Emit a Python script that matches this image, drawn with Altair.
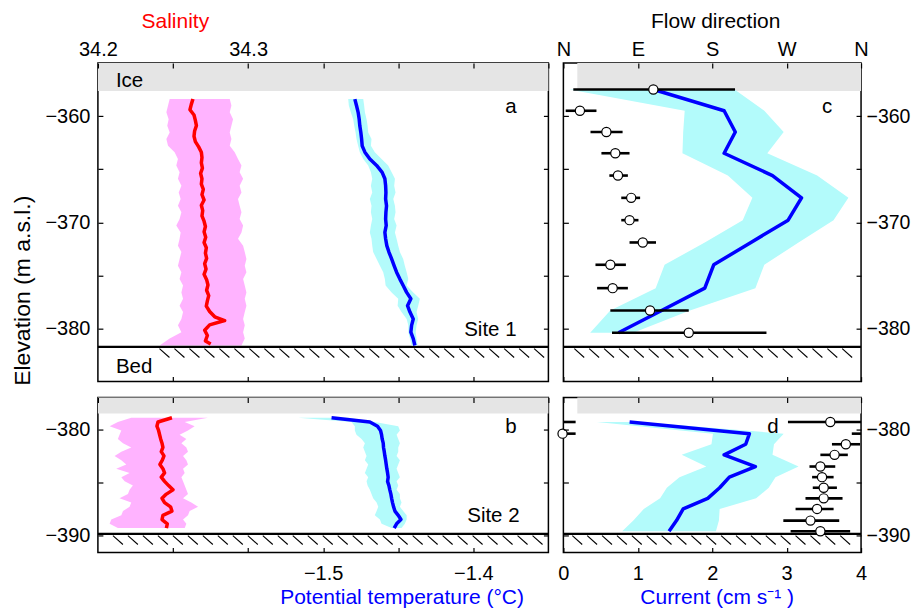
import altair as alt
import pandas as pd

FONT = "Liberation Sans"
LBL = 20
TTL = 21
GREY = "#e5e5e5"
PINK = "#ffb3ff"
CYAN = "#b3fbfb"
RED = "#ff0000"
BLUE = "#0000ff"

# ---------------- Panel a (Site 1) : salinity / temperature profiles ----------------
a_sal_elev = [-358.4, -358.9, -359.4, -359.9, -360.4, -360.9, -361.4, -361.9, -362.4, -362.9,
              -363.4, -363.9, -364.4, -364.9, -365.4, -365.9, -366.4, -366.9, -367.4, -367.9,
              -368.4, -368.9, -369.4, -369.9, -370.4, -370.9, -371.4, -371.9, -372.4, -372.9,
              -373.4, -373.9, -374.4, -374.9, -375.4, -375.9, -376.4, -376.9, -377.4, -377.9,
              -378.4, -378.9, -379.25, -379.66, -380.16, -380.66, -381.17, -381.45]
a_sal = [34.2633, 34.2622, 34.2613, 34.2640, 34.2649, 34.2656, 34.2644, 34.2640, 34.2649, 34.2671,
         34.2689, 34.2693, 34.2689, 34.2696, 34.2684, 34.2693, 34.2689, 34.2702, 34.2693, 34.2707,
         34.2689, 34.2698, 34.2693, 34.2707, 34.2716, 34.2707, 34.2718, 34.2707, 34.2722, 34.2716,
         34.2724, 34.2711, 34.2720, 34.2707, 34.2724, 34.2733, 34.2724, 34.2738, 34.2729, 34.2722,
         34.2744, 34.2778, 34.2844, 34.2744, 34.2711, 34.2729, 34.2716, 34.2751]

a_elev = [-358.4, -359.0, -359.65, -360.3, -360.9, -361.55, -362.15, -362.8, -363.4, -364.05,
          -364.65, -365.3, -365.9, -366.55, -367.2, -367.8, -368.45, -369.05, -369.7, -370.3,
          -370.95, -371.55, -372.2, -372.8, -373.45, -374.1, -374.7, -375.35, -375.95, -376.6,
          -377.2, -377.85, -378.45, -379.1, -379.7, -380.35, -380.95, -381.6]
a_sal_lo = [34.2478, 34.2467, 34.2456, 34.2471, 34.2462, 34.2478, 34.2456, 34.2467, 34.2511, 34.2533,
            34.2522, 34.2544, 34.2533, 34.2556, 34.2538, 34.2551, 34.2533, 34.2556, 34.2544, 34.2522,
            34.2551, 34.2544, 34.2533, 34.2556, 34.2544, 34.2533, 34.2556, 34.2544, 34.2567, 34.2556,
            34.2567, 34.2544, 34.2567, 34.2556, 34.2533, 34.2556, 34.2478, 34.2411]
a_sal_hi = [34.2878, 34.2889, 34.2878, 34.2900, 34.2889, 34.2878, 34.2889, 34.2878, 34.2911, 34.2933,
            34.2956, 34.2944, 34.2967, 34.2944, 34.2956, 34.2933, 34.2944, 34.2956, 34.2944, 34.2967,
            34.2956, 34.2933, 34.2967, 34.2978, 34.2989, 34.2978, 34.2989, 34.2967, 34.2978, 34.2989,
            34.2978, 34.2989, 34.2978, 34.2967, 34.2978, 34.2967, 34.2978, 34.2956]
a_temp = [-1.4789, -1.4778, -1.4767, -1.4760, -1.4756, -1.4749, -1.4744, -1.4740, -1.4722, -1.4689,
          -1.4644, -1.4607, -1.4589, -1.4584, -1.4582, -1.4584, -1.4578, -1.4582, -1.4584, -1.4580,
          -1.4589, -1.4584, -1.4576, -1.4562, -1.4544, -1.4527, -1.4511, -1.4489, -1.4467, -1.4444,
          -1.4416, -1.4438, -1.4422, -1.4400, -1.4411, -1.4416, -1.4400, -1.4389]
a_temp_lo = [-1.4833, -1.4829, -1.4816, -1.4800, -1.4793, -1.4784, -1.4778, -1.4767, -1.4756, -1.4733,
             -1.4700, -1.4682, -1.4673, -1.4682, -1.4673, -1.4689, -1.4678, -1.4682, -1.4673, -1.4682,
             -1.4689, -1.4678, -1.4673, -1.4667, -1.4644, -1.4622, -1.4600, -1.4589, -1.4584, -1.4544,
             -1.4500, -1.4504, -1.4478, -1.4444, -1.4433, -1.4433, -1.4422, -1.4411]
a_temp_hi = [-1.4733, -1.4727, -1.4722, -1.4711, -1.4704, -1.4700, -1.4678, -1.4682, -1.4656, -1.4611,
             -1.4567, -1.4544, -1.4522, -1.4527, -1.4518, -1.4533, -1.4522, -1.4518, -1.4527, -1.4511,
             -1.4522, -1.4511, -1.4500, -1.4489, -1.4467, -1.4456, -1.4444, -1.4433, -1.4444, -1.4400,
             -1.4356, -1.4367, -1.4378, -1.4367, -1.4378, -1.4384, -1.4378, -1.4371]

# ---------------- Panel b (Site 2) ----------------
b_elev = [-378.9, -379.3, -379.7, -380.1, -380.5, -380.9, -381.3, -381.7, -382.1, -382.5,
          -382.9, -383.3, -383.7, -384.1, -384.5, -384.9, -385.3, -385.7, -386.1, -386.5,
          -386.9, -387.3, -387.7, -388.1, -388.5, -388.9, -389.3]
b_sal = [34.2493, 34.2400, 34.2393, 34.2404, 34.2411, 34.2418, 34.2427, 34.2433, 34.2422, 34.2440,
         34.2429, 34.2413, 34.2433, 34.2444, 34.2422, 34.2444, 34.2471, 34.2500, 34.2456, 34.2427,
         34.2444, 34.2484, 34.2493, 34.2433, 34.2427, 34.2462, 34.2456]
b_sal_lo = [34.2222, 34.2133, 34.2078, 34.2156, 34.2144, 34.2133, 34.2167, 34.2222, 34.2156, 34.2111,
            34.2156, 34.2189, 34.2122, 34.2211, 34.2156, 34.2178, 34.2233, 34.2211, 34.2200, 34.2144,
            34.2222, 34.2211, 34.2167, 34.2156, 34.2089, 34.2078, 34.2133]
b_sal_hi = [34.2733, 34.2578, 34.2644, 34.2600, 34.2544, 34.2589, 34.2556, 34.2589, 34.2600, 34.2567,
            34.2589, 34.2600, 34.2567, 34.2578, 34.2556, 34.2567, 34.2578, 34.2589, 34.2600, 34.2567,
            34.2622, 34.2667, 34.2611, 34.2600, 34.2567, 34.2589, 34.2578]
b_temp = [-1.4944, -1.4689, -1.4638, -1.4618, -1.4611, -1.4607, -1.4600, -1.4598, -1.4593, -1.4589,
          -1.4584, -1.4580, -1.4576, -1.4571, -1.4567, -1.4571, -1.4562, -1.4556, -1.4549, -1.4544,
          -1.4538, -1.4531, -1.4522, -1.4500, -1.4482, -1.4511, -1.4527]
b_temp_lo = [-1.5167, -1.4811, -1.4789, -1.4789, -1.4778, -1.4744, -1.4722, -1.4733, -1.4722, -1.4711,
             -1.4722, -1.4700, -1.4711, -1.4722, -1.4700, -1.4711, -1.4704, -1.4689, -1.4678, -1.4667,
             -1.4644, -1.4633, -1.4644, -1.4656, -1.4622, -1.4611, -1.4544]
b_temp_hi = [-1.4833, -1.4656, -1.4500, -1.4489, -1.4511, -1.4500, -1.4489, -1.4500, -1.4500, -1.4511,
             -1.4489, -1.4500, -1.4511, -1.4500, -1.4489, -1.4511, -1.4500, -1.4511, -1.4489, -1.4489,
             -1.4478, -1.4489, -1.4467, -1.4444, -1.4444, -1.4456, -1.4478]

# ---------------- Panel c (Site 1 currents) ----------------
c_elev = [-357.5, -359.5, -361.5, -363.5, -365.6, -367.7, -369.8, -371.9, -374.0, -376.2, -378.3, -380.4]
c_cur = [1.21, 2.16, 2.31, 2.16, 2.81, 3.20, 3.02, 2.52, 2.02, 1.90, 1.32, 0.74]
c_cur_lo = [0.08, 1.63, 1.61, 1.60, 2.21, 2.54, 2.41, 1.90, 1.36, 1.24, 0.63, 0.36]
c_cur_hi = [2.30, 2.70, 2.96, 2.74, 3.41, 3.83, 3.63, 3.16, 2.70, 2.58, 1.70, 0.94]
c_dir = [108.8, 20.0, 52.0, 62.8, 66.0, 82.0, 80.0, 96.0, 56.8, 59.6, 104.8, 151.6]
c_dir_lo = [12.0, 2.8, 32.8, 46.0, 55.6, 70.0, 70.0, 80.0, 38.8, 40.8, 56.8, 58.8]
c_dir_hi = [207.6, 40.0, 71.6, 80.0, 78.0, 92.8, 90.8, 112.0, 75.6, 78.0, 151.6, 245.6]

# ---------------- Panel d (Site 2 currents) ----------------
d_elev = [-379.3, -380.4, -381.4, -382.4, -383.5, -384.5, -385.5, -386.5, -387.5, -388.6, -389.6]
d_cur = [0.89, 2.50, 2.45, 2.16, 2.58, 2.23, 2.10, 1.94, 1.61, 1.52, 1.42]
d_cur_lo = [0.45, 2.01, 1.99, 1.59, 1.92, 1.56, 1.39, 1.30, 1.08, 0.94, 0.79]
d_cur_hi = [1.03, 2.96, 2.83, 2.81, 3.16, 2.85, 2.76, 2.59, 2.10, 2.09, 2.05]
d_dir = [322.8, -1.0, 341.6, 328.0, 310.8, 312.8, 314.8, 314.8, 306.8, 298.8, 310.8]
d_dir_lo = [271.6, -11.2, 324.8, 310.8, 297.6, 300.8, 301.6, 292.8, 280.8, 266.0, 274.8]
d_dir_hi = [374.8, 14.8, 358.8, 344.0, 328.8, 326.8, 330.8, 337.6, 326.8, 333.6, 346.8]

# ice base / bed elevations
ICE_A, BED_A = -357.65, -381.73
ICE_B, BED_B = -378.49, -389.85

sal_ticks = [34.2, 34.25, 34.3, 34.35, 34.4, 34.45, 34.5]
temp_ticks = [-1.6, -1.55, -1.5, -1.45, -1.4]
cur_ticks = [0, 1, 2, 3, 4]
dir_ticks = [0, 90, 180, 270, 360]
ya_ticks = [-380, -375, -370, -365, -360]
yb_ticks = [-390, -385, -380]

SAL_DOM, TEMP_DOM = [34.2, 34.5], [-1.65, -1.35]
CUR_DOM, DIR_DOM = [0, 4], [0, 360]
YA_DOM, YB_DOM = [-385, -355], [-391.6, -377.0]
WL, WR, HA, HB = 451, 298, 319, 155


def sc(dom):
    return alt.Scale(domain=dom, nice=False, zero=False)


def axis(orient, values, expr=None, labels=True, title=None, **kw):
    d = dict(orient=orient, values=values, domain=False, grid=False, ticks=True,
             tickSize=5, tickColor="black", tickWidth=1.2, offset=-5, labels=labels,
             labelFont=FONT, labelFontSize=LBL, labelColor="black",
             labelOverlap=False, labelFlush=False, zindex=1, title=title)
    if expr is not None:
        d["labelExpr"] = expr
    if title is not None:
        d.update(titleFont=FONT, titleFontSize=TTL, titleFontWeight="normal",
                 titleAlign="center", titleBaseline="alphabetic")
    d.update(kw)
    return alt.Axis(**d)


SAL_EXPR = "abs(datum.value-34.2)<0.001 || abs(datum.value-34.3)<0.001 ? format(datum.value,'.1f') : ''"
TEMP_EXPR = "abs(datum.value+1.5)<0.001 || abs(datum.value+1.4)<0.001 ? format(datum.value,'.1f') : ''"
Y_EXPR = "datum.value % 10 == 0 ? datum.label : ''"
DIR_EXPR = "['N','E','S','W','N'][round(datum.value/90)]"


def enc(chart, X, Y, x2=False, y2=False, **extra):
    e = dict(x=alt.X("x:Q", scale=X[0], axis=X[1]), y=alt.Y("y:Q", scale=Y[0], axis=Y[1]))
    if x2:
        e["x2"] = alt.X2("x2:Q")
    if y2:
        e["y2"] = alt.Y2("y2:Q")
    e.update(extra)
    return chart.encode(**e)


def profile_df(elev, val):
    return pd.DataFrame({"y": elev, "x": val, "i": list(range(len(elev)))})


def band_df(elev, lo, hi):
    return pd.DataFrame({"y": elev, "x": lo, "x2": hi})


def hatch_df(x0, x1, step, dx, bed, dy1, dy2):
    rows = []
    x = x0
    while x + dx <= x1 + 1e-9:
        rows.append({"x": x, "x2": x + dx, "y": bed - dy1, "y2": bed - dy2})
        x += step
    return pd.DataFrame(rows)


def bars_df(elev, lo, hi):
    rows = []
    for e, l, h in zip(elev, lo, hi):
        rows.append({"y": e, "x": max(l, 0.0), "x2": min(h, 360.0)})
        if h > 360:
            rows.append({"y": e, "x": 0.0, "x2": h - 360.0})
        if l < 0:
            rows.append({"y": e, "x": l + 360.0, "x2": 360.0})
    return pd.DataFrame(rows)


def texts(X, Y, items, align):
    df = pd.DataFrame(items, columns=["x", "y", "t"])
    return enc(alt.Chart(df).mark_text(font=FONT, fontSize=20.5, align=align,
                                       baseline="alphabetic", color="black"),
               X, Y, text="t:N")


def common_layers(X, Y, ice_x0, ice_x1, ice_y, top_y, bed, x0, x1, hatch):
    ice = enc(alt.Chart(pd.DataFrame([{"x": ice_x0, "x2": ice_x1, "y": ice_y, "y2": top_y}]))
              .mark_rect(color=GREY), X, Y, x2=True, y2=True)
    bedl = enc(alt.Chart(pd.DataFrame([{"x": x0, "x2": x1, "y": bed}]))
               .mark_rule(color="black", strokeWidth=2.2), X, Y, x2=True)
    hat = enc(alt.Chart(hatch).mark_rule(color="black", strokeWidth=1.1), X, Y, x2=True, y2=True)
    return ice, bedl, hat


def profile_panel(X1, X2, Y1, Y2, ydom, ice_y, bed, hatch_x0, sal, temp, labels_l, labels_r, w, h):
    ice, bedl, hat = common_layers(X1, Y1, SAL_DOM[0], SAL_DOM[1], ice_y, ydom[1], bed,
                                   SAL_DOM[0], SAL_DOM[1],
                                   hatch_df(hatch_x0, SAL_DOM[1], 0.00998, 0.00665, bed, 0.17, 1.0))
    sband = enc(alt.Chart(band_df(*sal[1])).mark_area(orient="horizontal", color=PINK, opacity=1),
                X1, Y1, x2=True)
    sline = enc(alt.Chart(profile_df(*sal[0])).mark_line(color=RED, strokeWidth=3.5, strokeJoin="round"),
                X1, Y1, order=alt.Order("i:Q"))
    tband = enc(alt.Chart(band_df(*temp[1])).mark_area(orient="horizontal", color=CYAN, opacity=1),
                X2, Y2, x2=True)
    tline = enc(alt.Chart(profile_df(*temp[0])).mark_line(color=BLUE, strokeWidth=3.5, strokeJoin="round"),
                X2, Y2, order=alt.Order("i:Q"))
    gS = [ice, sband, sline, bedl, hat]
    if labels_l:
        gS.append(texts(X1, Y1, labels_l, "left"))
    if labels_r:
        gS.append(texts(X1, Y1, labels_r, "right"))
    gT = [tband, tline]
    return alt.layer(alt.layer(*gS), alt.layer(*gT)).resolve_scale(
        x="independent", y="independent").properties(width=w, height=h)


def current_panel(X1, X2, Y1, Y2, ydom, ice_y, bed, hatch_x0, elev, cur, lo, hi, dr, dlo, dhi, lab, w, h):
    ice, bedl, hat = common_layers(X1, Y1, 0.187, CUR_DOM[1], ice_y, ydom[1], bed,
                                   CUR_DOM[0], CUR_DOM[1],
                                   hatch_df(hatch_x0, CUR_DOM[1], 0.2, 0.133, bed, 0.17, 1.0))
    cband = enc(alt.Chart(band_df(elev, lo, hi)).mark_area(orient="horizontal", color=CYAN, opacity=1),
                X1, Y1, x2=True)
    cline = enc(alt.Chart(profile_df(elev, cur)).mark_line(color=BLUE, strokeWidth=3.5, strokeJoin="round"),
                X1, Y1, order=alt.Order("i:Q"))
    gC = [ice, cband, cline, bedl, hat, texts(X1, Y1, lab, "right")]
    bars = enc(alt.Chart(bars_df(elev, dlo, dhi)).mark_rule(color="black", strokeWidth=2.6),
               X2, Y2, x2=True)
    pts = enc(alt.Chart(pd.DataFrame({"x": dr, "y": elev})).mark_point(
        shape="circle", filled=True, fill="white", stroke="black", strokeWidth=1.2, size=85, opacity=1),
        X2, Y2)
    gD = [bars, pts]
    return alt.layer(alt.layer(*gC), alt.layer(*gD)).resolve_scale(
        x="independent", y="independent").properties(width=w, height=h)


# ---------------- axes ----------------
AX_SAL_A = axis("top", sal_ticks, SAL_EXPR, title="Salinity", labelPadding=7, labelBaseline="alphabetic",
                titleColor=RED, titleX=77, titleY=-40.3)
AX_TEMP_A = axis("bottom", temp_ticks, labels=False)
AX_YL_A = axis("left", ya_ticks, Y_EXPR, title="Elevation (m a.s.l.)", labelPadding=8,
               titleX=-73, titleY=227.5, titleAngle=270, titleFontSize=23)
AX_YR_A = axis("right", ya_ticks, labels=False)

AX_SAL_B = axis("top", sal_ticks, labels=False)
AX_TEMP_B = axis("bottom", temp_ticks, TEMP_EXPR, title="Potential temperature (°C)", labelPadding=11,
                 titleColor=BLUE, titleX=304, titleY=56.3)
AX_YL_B = axis("left", yb_ticks, Y_EXPR, labelPadding=8)
AX_YR_B = axis("right", yb_ticks, labels=False)

AX_DIR_C = axis("top", dir_ticks, DIR_EXPR, title="Flow direction", labelPadding=7, labelBaseline="alphabetic",
                titleX=152, titleY=-40.3)
AX_CUR_C = axis("bottom", cur_ticks, labels=False)
AX_YR_C = axis("right", ya_ticks, Y_EXPR, labelPadding=5, labelFontSize=19.5)
AX_YL_C = axis("left", ya_ticks, labels=False)

AX_DIR_D = axis("top", dir_ticks, labels=False)
AX_CUR_D = axis("bottom", cur_ticks, title="Current (cm s⁻¹ )", labelPadding=11,
                titleColor=BLUE, titleX=153.5, titleY=56.3)
AX_YR_D = axis("right", yb_ticks, Y_EXPR, labelPadding=5, labelFontSize=19.5)
AX_YL_D = axis("left", yb_ticks, labels=False)

# ---------------- panels ----------------
pa = profile_panel((sc(SAL_DOM), AX_SAL_A), (sc(TEMP_DOM), AX_TEMP_A),
                   (sc(YA_DOM), AX_YL_A), (sc(YA_DOM), AX_YR_A), YA_DOM, ICE_A, BED_A, 34.241,
                   ((a_sal_elev, a_sal), (a_elev, a_sal_lo, a_sal_hi)),
                   ((a_elev, a_temp), (a_elev, a_temp_lo, a_temp_hi)),
                   [(34.212, -357.3, "Ice"), (34.212, -384.2, "Bed")],
                   [(34.4788, -359.75, "a"), (34.4788, -380.72, "Site 1")], WL, HA)

pb = profile_panel((sc(SAL_DOM), AX_SAL_B), (sc(TEMP_DOM), AX_TEMP_B),
                   (sc(YB_DOM), AX_YL_B), (sc(YB_DOM), AX_YR_B), YB_DOM, ICE_B, BED_B, 34.21,
                   ((b_elev, b_sal), (b_elev, b_sal_lo, b_sal_hi)),
                   ((b_elev, b_temp), (b_elev, b_temp_lo, b_temp_hi)),
                   [],
                   [(34.4788, -380.33, "b"), (34.4808, -388.72, "Site 2")], WL, HB)

pc = current_panel((sc(CUR_DOM), AX_CUR_C), (sc(DIR_DOM), AX_DIR_C),
                   (sc(YA_DOM), AX_YR_C), (sc(YA_DOM), AX_YL_C), YA_DOM, ICE_A, BED_A, 0.147,
                   c_elev, c_cur, c_cur_lo, c_cur_hi, c_dir, c_dir_lo, c_dir_hi,
                   [(3.613, -359.75, "c")], WR, HA)

pdd = current_panel((sc(CUR_DOM), AX_CUR_D), (sc(DIR_DOM), AX_DIR_D),
                    (sc(YB_DOM), AX_YR_D), (sc(YB_DOM), AX_YL_D), YB_DOM, ICE_B, BED_B, 0.12,
                    d_elev, d_cur, d_cur_lo, d_cur_hi, d_dir, d_dir_lo, d_dir_hi,
                    [(2.893, -380.33, "d")], WR, HB)

chart = alt.concat(pa, pc, pb, pdd, columns=2, spacing={"row": 16, "column": 15},
                   bounds="flush", align="each").properties(
    padding={"left": 3, "top": 0.7, "right": 0, "bottom": 0}, background="white"
).configure_view(stroke="black", strokeWidth=1.5)

chart.save("out.html", embed_options={"renderer": "svg", "actions": False})
